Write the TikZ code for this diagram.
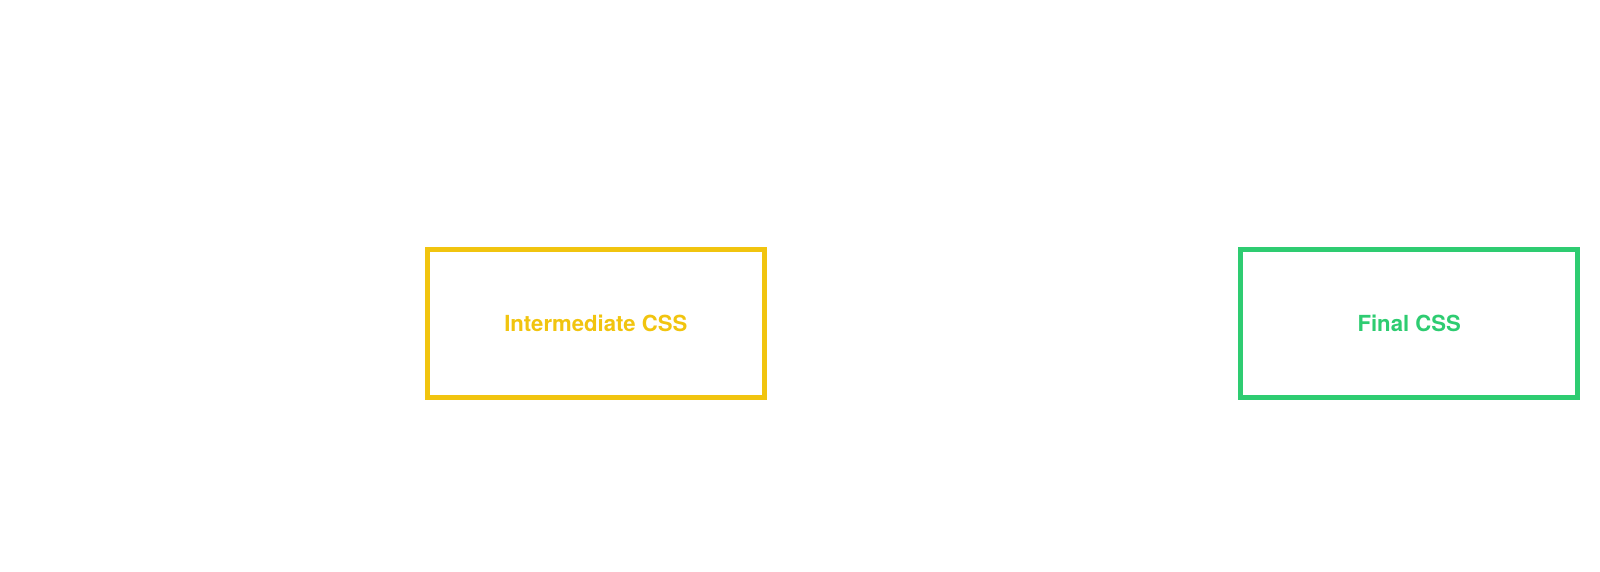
\documentclass[tikz,border=0pt]{standalone}
\usepackage{fontspec}
\setmainfont{TeX Gyre Heros}
\definecolor{sunflower}{HTML}{F1C40F}
\definecolor{emerald}{HTML}{2ECC71}
\tikzset{
  cssbox/.style={draw=#1, line width=1.42pt, inner sep=0pt, minimum width=3.367cm, minimum height=1.483cm},
  csslabel/.style={text=#1, font=\bfseries\fontsize{6.3}{7}\selectfont, inner sep=0pt}
}
\begin{document}
\begin{tikzpicture}
    \useasboundingbox (0,0) rectangle (16,5.72);
    % Intermediate box
    \node[cssbox=sunflower] (intbox) at (5.958,2.486) {};
    \node[csslabel=sunflower] (intlabel) at (intbox.center) {Intermediate CSS};
    % Final box
    \node[cssbox=emerald] (finalbox) at (14.092,2.486) {};
    \node[csslabel=emerald] (finallabel) at (finalbox.center) {Final CSS};
\end{tikzpicture}
\end{document}
